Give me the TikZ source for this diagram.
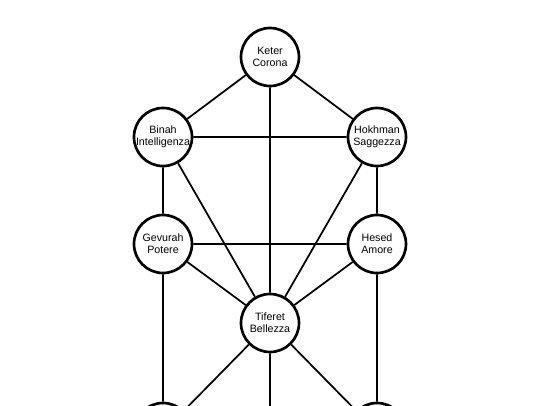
\documentclass[tikz,border=0pt]{standalone}
\usepackage{fontspec}
\setmainfont{Liberation Sans}
\begin{document}
\begin{tikzpicture}[x=0.75pt,y=-0.75pt,
  sefira/.style={circle,draw=black,line width=2pt,fill=white,minimum size=58*0.75pt,inner sep=0pt,align=center,font=\fontsize{8}{9}\selectfont},
  link/.style={draw=black,line width=1.3pt}]
\useasboundingbox (0,0) rectangle (540,405);
\clip (0,0) rectangle (540,405);
\fill[white] (0,0) rectangle (540,405);
\node[sefira] (keter) at (270,57) {Keter\\Corona};
\node[sefira] (binah) at (163,137) {Binah\\Intelligenza};
\node[sefira] (hokhman) at (377,137) {Hokhman\\Saggezza};
\node[sefira] (gevurah) at (163,244) {Gevurah\\Potere};
\node[sefira] (hesed) at (377,244) {Hesed\\Amore};
\node[sefira] (tiferet) at (270,323) {Tiferet\\Bellezza};
\node[sefira] (hod) at (163,432) {};
\node[sefira] (netzach) at (377,432) {};
\coordinate (yesod) at (270,540);
\draw[link] (keter) -- (binah) (keter) -- (hokhman) (keter) -- (tiferet)
  (binah) -- (hokhman) (binah) -- (gevurah) (binah) -- (tiferet)
  (hokhman) -- (hesed) (hokhman) -- (tiferet)
  (gevurah) -- (hesed) (gevurah) -- (tiferet) (hesed) -- (tiferet)
  (gevurah) -- (hod) (hesed) -- (netzach)
  (tiferet) -- (hod) (tiferet) -- (netzach) (tiferet) -- (yesod);
\end{tikzpicture}
\end{document}
